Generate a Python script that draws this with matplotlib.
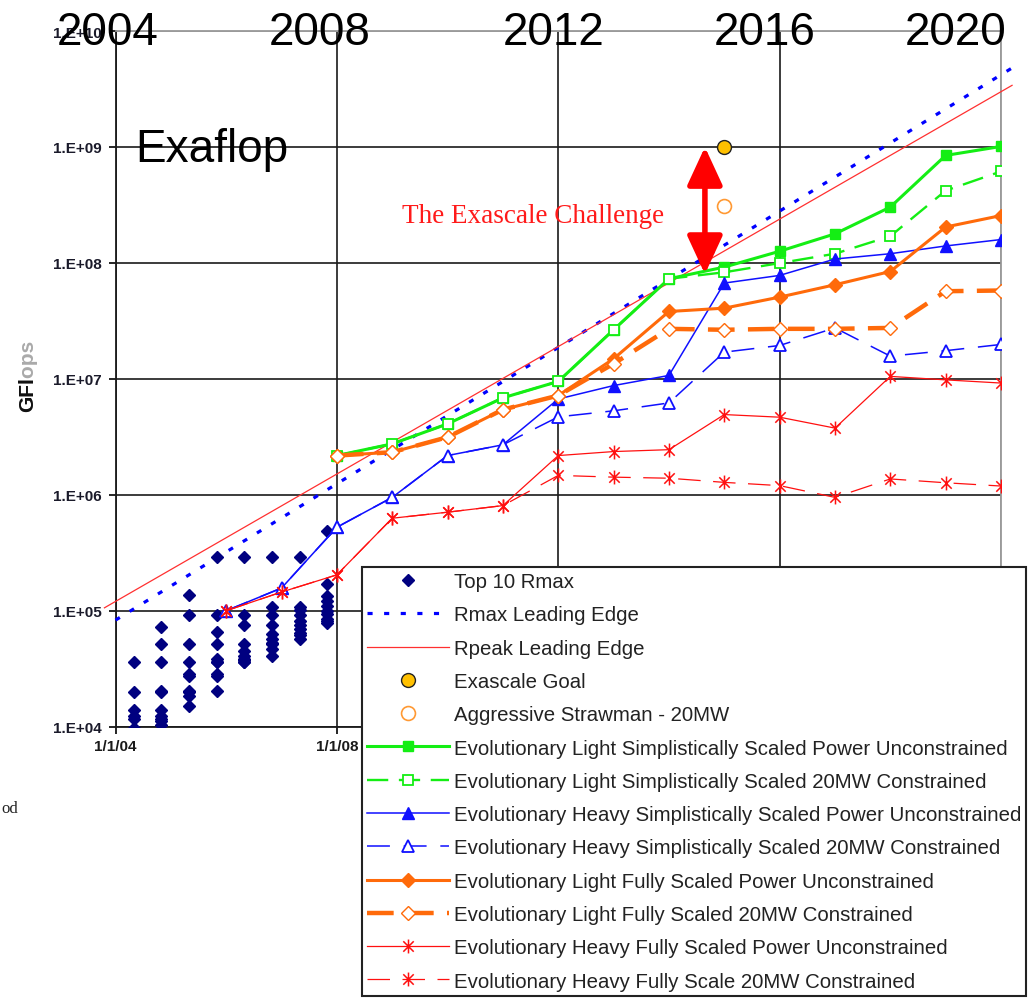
import numpy as np
import matplotlib.pyplot as plt
from matplotlib.path import Path
from matplotlib.ticker import NullLocator

plt.rcParams['font.family'] = ['Liberation Sans', 'DejaVu Sans']

# TOP500 top-10 Rmax (GFlops), one column per list
top10_dates = [2004.33, 2004.83, 2005.33, 2005.83, 2006.33, 2006.83, 2007.33, 2007.83]
top10_rmax = [
    [35900, 20000, 13900, 12300, 11700, 9800, 8600, 7300, 7300, 6600],
    [72000, 51800, 35900, 20500, 20000, 13900, 12300, 11700, 11300, 10300],
    [137000, 91000, 51800, 35900, 28500, 27500, 20500, 20000, 18400, 15200],
    [290000, 91000, 65000, 51800, 38300, 36200, 35900, 28500, 27500, 20400],
    [290000, 91000, 75000, 51800, 45000, 41000, 38200, 37300, 36200, 35900],
    [290000, 107000, 91000, 75000, 63000, 57000, 53000, 51800, 47000, 41000],
    [290000, 107000, 101000, 91000, 82000, 75000, 70000, 64000, 62000, 57000],
    [489000, 170000, 135000, 122000, 110000, 100000, 94000, 85000, 82000, 79000],
]

# leading edges (straight in log space)
rmax_edge_years = [2004.0, 2020.2]
rmax_edge_vals = [8.3e4, 4.8e9]
rpeak_edge_years = [2003.8, 2020.2]
rpeak_edge_vals = [1.06e5, 3.4e9]

goal_year = 2015
goal_value = 1.0e9
strawman_value = 3.1e8
challenge_year = 2014.65
challenge_top = 1.0e9
challenge_bottom = 8.0e7

light_years = list(range(2008, 2021))
light_simple_power = [2.18e6, 2.75e6, 4.09e6, 6.86e6, 9.5e6, 2.65e7, 7.3e7, 9.2e7, 1.26e8, 1.78e8, 3.03e8, 8.45e8, 1.01e9]
light_simple_20mw = [2.18e6, 2.75e6, 4.09e6, 6.86e6, 9.5e6, 2.65e7, 7.3e7, 8.3e7, 9.96e7, 1.2e8, 1.7e8, 4.2e8, 6.15e8]
light_full_power = [2.18e6, 2.33e6, 3.14e6, 5.43e6, 7.18e6, 1.49e7, 3.81e7, 4.07e7, 5.07e7, 6.48e7, 8.43e7, 2.04e8, 2.56e8]
light_full_20mw = [2.18e6, 2.33e6, 3.14e6, 5.43e6, 7.18e6, 1.35e7, 2.7e7, 2.65e7, 2.7e7, 2.7e7, 2.75e7, 5.7e7, 5.78e7]

heavy_years = list(range(2006, 2021))
heavy_simple_power = [1.0e5, 1.57e5, 5.25e5, 9.5e5, 2.18e6, 2.7e6, 6.7e6, 8.75e6, 1.07e7, 6.7e7, 7.8e7, 1.08e8, 1.2e8, 1.4e8, 1.59e8]
heavy_simple_20mw = [1.0e5, 1.57e5, 5.25e5, 9.5e5, 2.18e6, 2.7e6, 4.7e6, 5.3e6, 6.2e6, 1.7e7, 1.94e7, 2.75e7, 1.57e7, 1.75e7, 1.98e7]
heavy_full_power = [1.0e5, 1.45e5, 2.04e5, 6.28e5, 7.08e5, 8.07e5, 2.18e6, 2.36e6, 2.45e6, 4.92e6, 4.67e6, 3.76e6, 1.05e7, 9.8e6, 9.2e6]
heavy_full_20mw = [1.0e5, 1.45e5, 2.04e5, 6.28e5, 7.08e5, 8.07e5, 1.47e6, 1.42e6, 1.39e6, 1.28e6, 1.2e6, 9.5e5, 1.37e6, 1.27e6, 1.19e6]

ytick_vals = [1e4, 1e5, 1e6, 1e7, 1e8, 1e9, 1e10]
ytick_labels = ['1.E+04', '1.E+05', '1.E+06', '1.E+07', '1.E+08', '1.E+09', '1.E+10']
xtick_vals = [2004, 2008, 2012, 2016, 2020]
xtick_labels = ['1/1/04', '1/1/08', '1/1/12', '1/1/16', '1/1/20']
year_titles = ['2004', '2008', '2012', '2016', '2020']
year_title_px = [108, 320, 554, 765, 956]

W, H = 1036, 1003
fig = plt.figure(figsize=(W / 100, H / 100), dpi=100)
ax = fig.add_axes([115.5 / W, 1 - 727.7 / H, (1001 - 115.5) / W, (727.7 - 32) / H])
ax.set_yscale('log')

# asterisk marker: vertical bar plus an X
star = Path([(0, -1), (0, 1), (-0.75, -0.75), (0.75, 0.75), (-0.75, 0.75), (0.75, -0.75)],
            [Path.MOVETO, Path.LINETO] * 3)

navy = '#000080'
green = '#14EE14'
blue = '#1010FF'
orange = '#FF6A0A'
red = '#FF1010'

for i, d in enumerate(top10_dates):
    ax.plot([d] * len(top10_rmax[i]), top10_rmax[i], ls='none', marker='D', ms=6.5,
            color=navy, label='Top 10 Rmax' if i == 0 else None, zorder=4)

ax.plot(rmax_edge_years, rmax_edge_vals, color='#0000FF', lw=2.3, dashes=(1.6, 3.6),
        clip_on=False, label='Rmax Leading Edge', zorder=3)
ax.plot(rpeak_edge_years, rpeak_edge_vals, color='#FF3030', lw=0.9, clip_on=False,
        label='Rpeak Leading Edge', zorder=3)
ax.plot([goal_year], [goal_value], ls='none', marker='o', ms=10, mfc='#FFC000', mec='#222222',
        mew=1, label='Exascale Goal', zorder=6)
ax.plot([goal_year], [strawman_value], ls='none', marker='o', ms=10, mfc='white', mec='#FF9933',
        mew=1.2, label='Aggressive Strawman - 20MW', zorder=6)

ax.plot(light_years, light_simple_power, color=green, lw=2.2, marker='s', ms=7.5,
        label='Evolutionary Light Simplistically Scaled Power Unconstrained', zorder=4)
ax.plot(light_years, light_simple_20mw, color=green, lw=1.7, dashes=(9, 4.5), marker='s', ms=7.5,
        mfc='white', mew=1.3, label='Evolutionary Light Simplistically Scaled 20MW Constrained', zorder=4)
ax.plot(heavy_years, heavy_simple_power, color=blue, lw=1.1, marker='^', ms=8.5,
        label='Evolutionary Heavy Simplistically Scaled Power Unconstrained', zorder=4)
ax.plot(heavy_years, heavy_simple_20mw, color=blue, lw=1.1, dashes=(15, 9), marker='^', ms=8.5,
        mfc='white', mew=1.3, label='Evolutionary Heavy Simplistically Scaled 20MW Constrained', zorder=4)
ax.plot(light_years, light_full_power, color=orange, lw=2.2, marker='D', ms=7,
        label='Evolutionary Light Fully Scaled Power Unconstrained', zorder=4)
ax.plot(light_years, light_full_20mw, color=orange, lw=3.2, dashes=(6, 3), marker='D', ms=7,
        mfc='white', mew=1.0, label='Evolutionary Light Fully Scaled 20MW Constrained', zorder=4)
ax.plot(heavy_years, heavy_full_power, color=red, lw=0.9, marker=star, ms=10, mew=1.1,
        label='Evolutionary Heavy Fully Scaled Power Unconstrained', zorder=4)
ax.plot(heavy_years, heavy_full_20mw, color=red, lw=0.9, dashes=(18, 10), marker=star, ms=10, mew=1.1,
        label='Evolutionary Heavy Fully Scale 20MW Constrained', zorder=4)

ax.annotate('', xy=(challenge_year, challenge_bottom), xytext=(challenge_year, challenge_top),
            arrowprops=dict(arrowstyle='<|-|>,head_length=1.3,head_width=0.6', color='#FF0000',
                            lw=4, mutation_scale=18, shrinkA=0, shrinkB=0), zorder=7)

ax.set_xlim(2004, 2020)
ax.set_ylim(1e4, 1e10)
ax.set_yticks(ytick_vals)
ax.set_yticklabels(ytick_labels, fontsize=11, fontweight='bold', color='#1a1a2a')
ax.yaxis.set_minor_locator(NullLocator())
ax.set_xticks(xtick_vals)
ax.set_xticklabels(xtick_labels, fontsize=11, fontweight='bold', color='#1a1a1a')
ax.tick_params(axis='y', length=5, width=1.2, pad=5)
ax.tick_params(axis='x', length=5, width=1.2, pad=4)
ax.grid(True, which='major', color='#1a1a1a', lw=1.2)
ax.set_axisbelow(True)
# outer right / top edges are grey in the original
ax.get_xgridlines()[-1].set_color('#999999')
ax.get_ygridlines()[-1].set_color('#999999')
for s in ['left', 'bottom']:
    ax.spines[s].set_color('#1a1a1a')
    ax.spines[s].set_linewidth(1.3)
for s in ['top', 'right']:
    ax.spines[s].set_color('#999999')
    ax.spines[s].set_linewidth(1.3)

leg = ax.legend(loc='upper left', bbox_to_anchor=(362 / W, 1 - 568 / H), bbox_transform=fig.transFigure,
                fontsize=14.7, handlelength=4.0, handletextpad=0.25, labelspacing=0.7, borderpad=0.25,
                borderaxespad=0, fancybox=False, framealpha=1, edgecolor='#222222', numpoints=1)
leg.get_frame().set_linewidth(1.5)
for t in leg.get_texts():
    t.set_color('#222222')
leg.set_zorder(10)

# y label: "GFl" dark over a grey "GFlops"
fig.text(33 / W, 1 - 412 / H, 'GFlops', rotation=90, rotation_mode='anchor', ha='left', va='baseline',
         fontsize=15, fontweight='bold', color='#aaaaaa')
fig.text(33 / W, 1 - 412 / H, 'GFl', rotation=90, rotation_mode='anchor', ha='left', va='baseline',
         fontsize=15, fontweight='bold', color='#111111')

for lab, px in zip(year_titles, year_title_px):
    fig.text(px / W, 1 - 45 / H, lab, ha='center', va='baseline', fontsize=33, color='black')
fig.text(135 / W, 1 - 162 / H, 'Exaflop', ha='left', va='baseline', fontsize=33, color='black')
fig.text(402 / W, 1 - 223 / H, 'The Exascale Challenge', ha='left', va='baseline', fontsize=19.5,
         family='Liberation Serif', color='#FF1A1A')
fig.text(1 / W, 1 - 813 / H, 'od', ha='left', va='baseline', fontsize=12, family='Liberation Serif',
         color='#222222')

fig.savefig('out.png', dpi=100)
